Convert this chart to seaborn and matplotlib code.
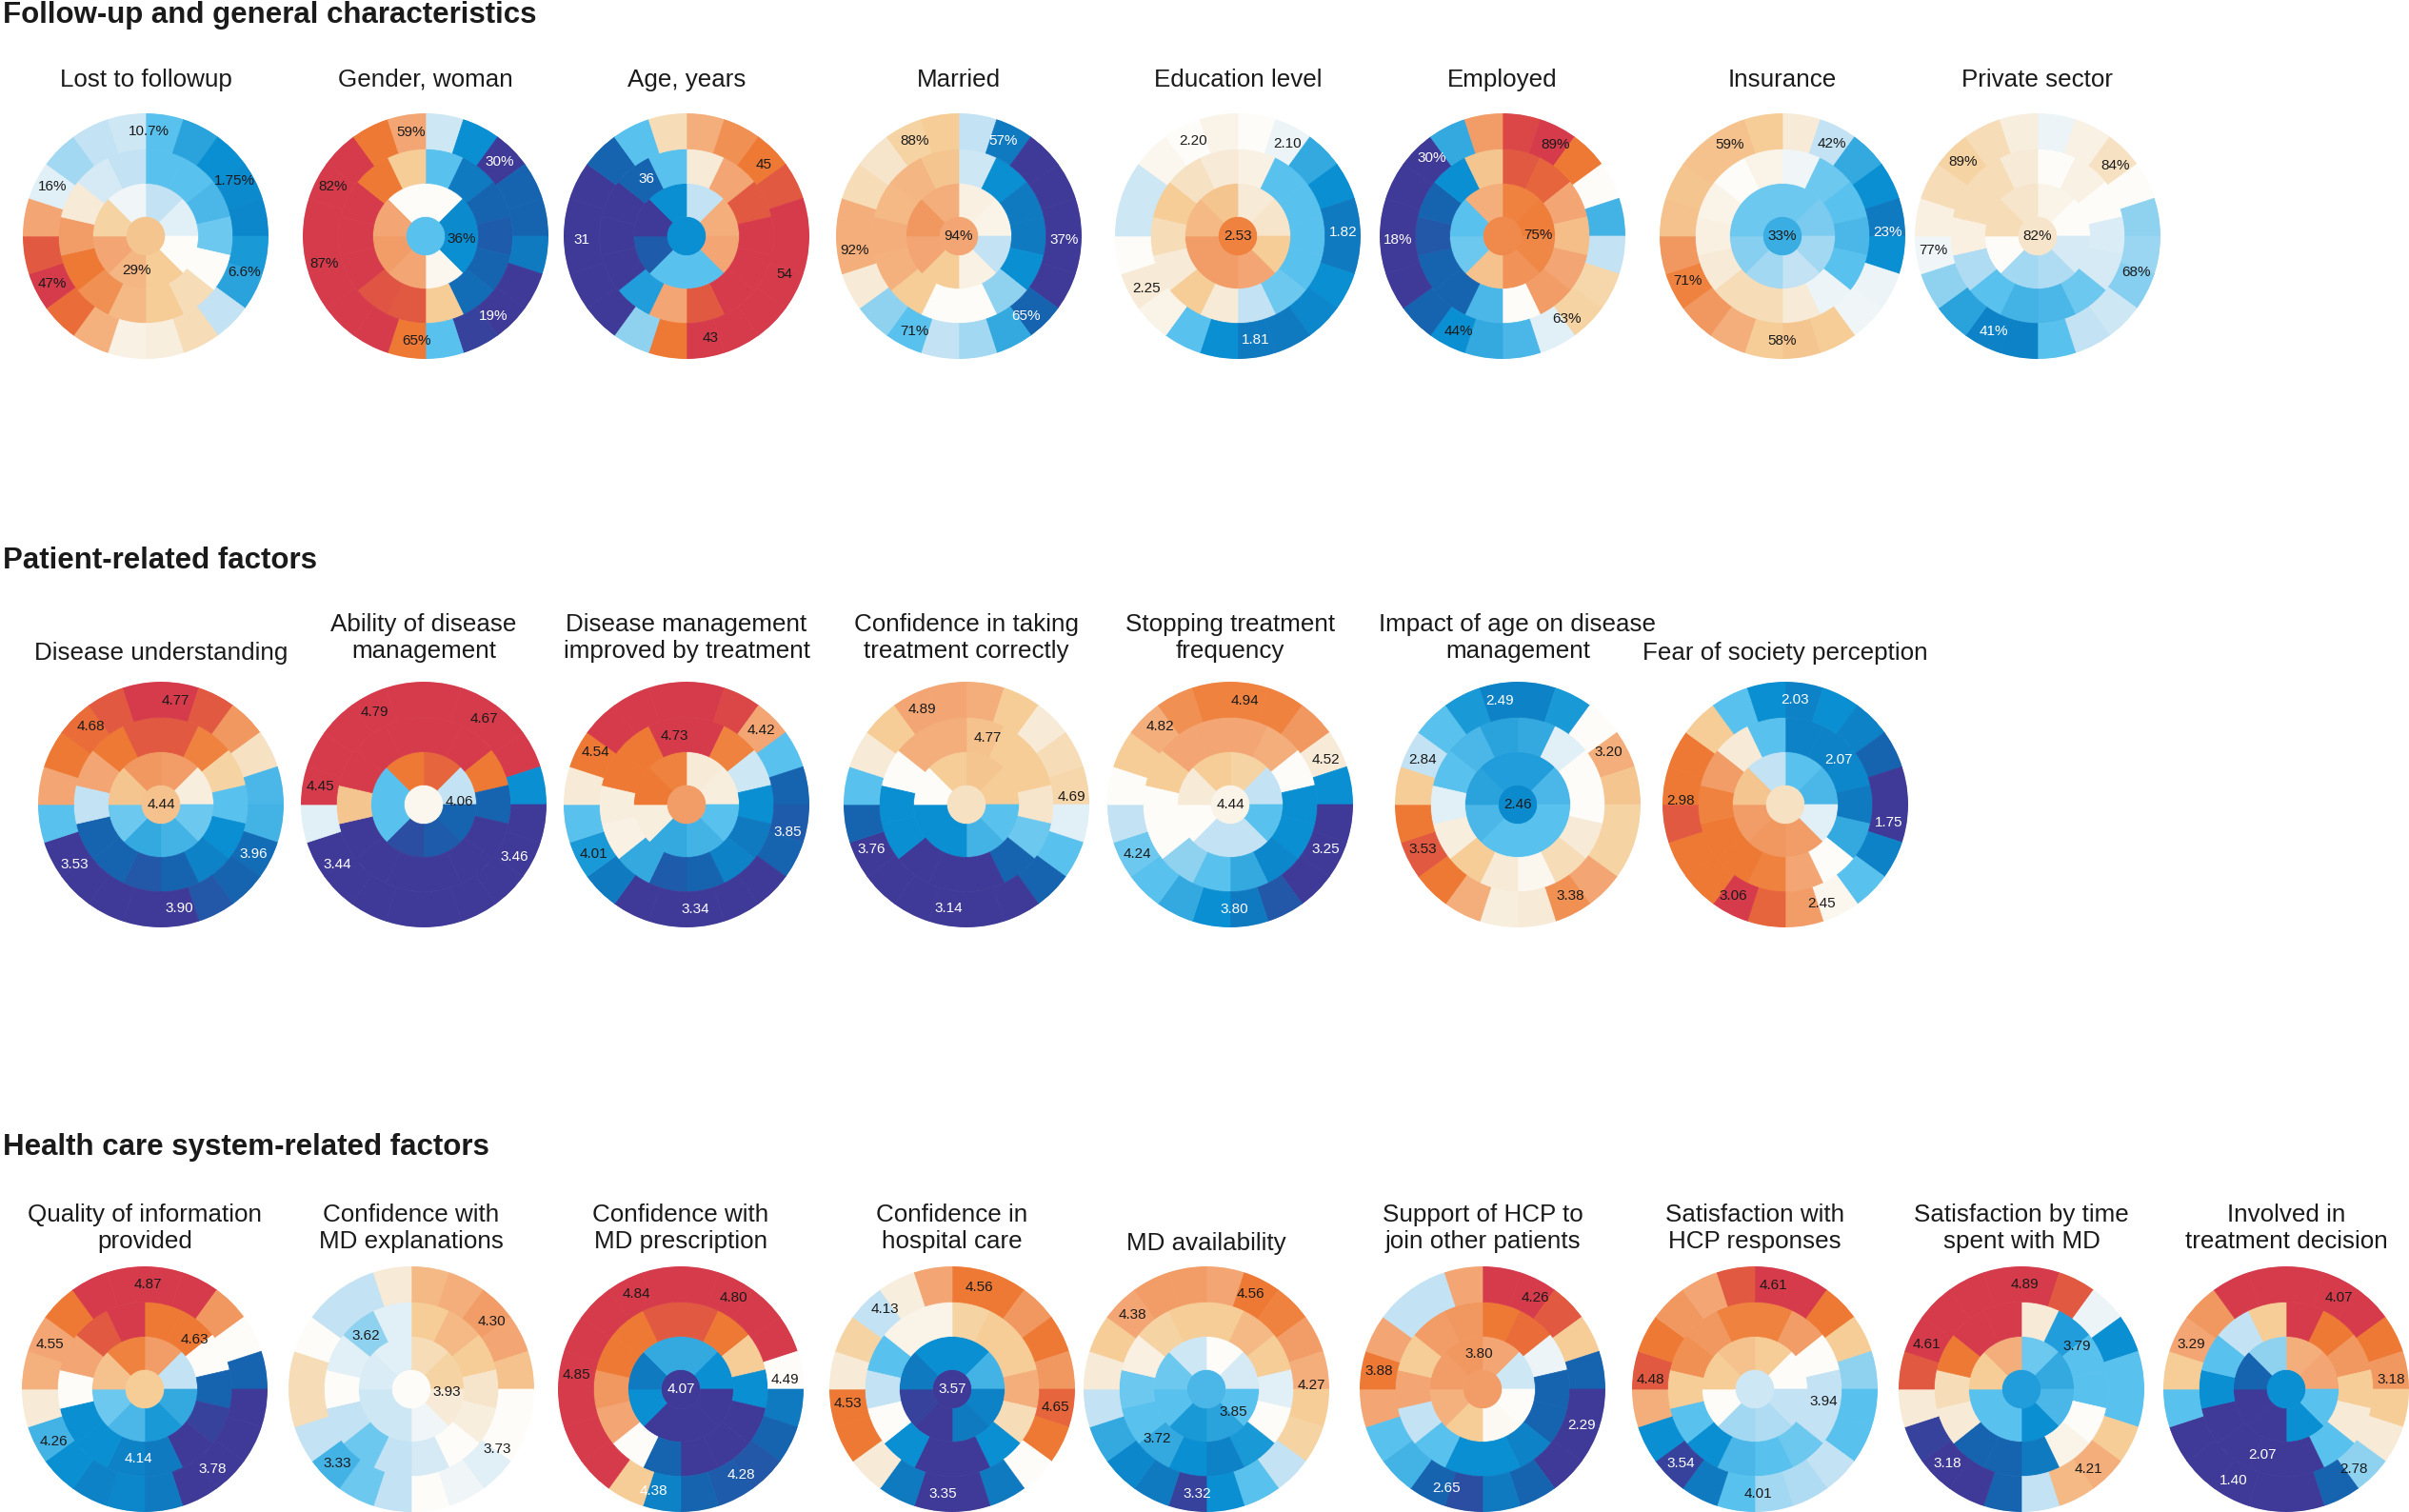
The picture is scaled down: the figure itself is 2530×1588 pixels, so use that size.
import numpy as np
import matplotlib
matplotlib.use("Agg")
import matplotlib.pyplot as plt
import seaborn as sns

sns.set_theme(style="white")
plt.rcParams["font.family"] = ["Liberation Sans", "DejaVu Sans"]

# colour score of every segment, -5 (dark blue) .. +5 (red)
# rings are listed clockwise from 12 o'clock: inner 8, middle 14, outer 20 segments

# ---------------- Follow-up and general characteristics ----------------
row1_titles = ["Lost to followup", "Gender, woman", "Age, years", "Married",
               "Education level", "Employed", "Insurance", "Private sector"]
row1_center = [2.2, -2, -3, 3, 3.8, 3.6, -2.4, 1.2]
row1_inner = [
    [-1, -0.5, 0, 2, 2.6, 3, 1.8, -0.2],
    [0, -3.1, -3.0, 0.3, 3, 3.2, 3, 0],
    [-1, 2.8, 3, -2, -2, -4.2, -5, -3],
    [0.7, 0.5, -1, 0.6, 2, 3, 3.3, 2.8],
    [1, 1.2, 2, 3, 3.2, 3.2, 2.5, 2.2],
    [3.8, 3.9, 3.7, 3.4, 2.3, -1.8, -2, 2.8],
    [-1.8, -1.7, -1.3, -1, -1.3, -1.6, -1.8, -1.8],
    [0.5, 0, -0.7, -1.2, -1.3, 0, 1.5, 1.2],
]
row1_mid = [
    [-2, -2, -2.2, -1.8, 0, 1.5, 2, 2.5, 3.5, 4, 3.2, 1, -0.7, -1],
    [-2, -3.5, -4, -4.2, -4, -3.8, 2, 4.5, 4.6, 5, 5, 5, 4, 2],
    [1, 3, 4.5, 5, 5, 5, 4.5, 3, -2.7, -5, -5, -5, -4, -2],
    [-0.8, -3, -3.5, -3.5, -3, -1.5, 0, 0, 2, 2.7, 2.8, 2.5, 2.6, 2.2],
    [0.6, -2, -2, -2, -2, -1.8, -1, 1, 2, 1, 1.5, 2, 1.3, 1],
    [4.5, 4.3, 3, 2.4, 3, 3.2, 0, -2.2, -4, -4, -4.3, -4, -3, 2.2],
    [-0.2, -1.8, -2, -2.2, -2, -0.3, 1, 1.5, 1.5, 1, 0.7, 0.5, 0, 0.5],
    [0, 0.6, 0, -0.6, -0.7, -1.8, -2.2, -2.3, -2, -1.2, 0.7, 1.5, 1.5, 1],
]
row1_outer = [
    [-2, -2.6, -3, -3.1, -3.2, -2.8, -2.6, -1, 1.5, 0.8, 0.6, 2.7, 4.2, 5, 4.5, 3, -0.5, -1.3, -1, -0.8],
    [-0.8, -3, -5, -4, -4, -3.5, -5, -5, -4.8, -2, 4, 5, 5, 5, 5, 5, 5, 5, 4, 3],
    [2.8, 3.5, 4, 4.5, 5, 5, 5, 5, 5, 5, 4, -1.5, -5, -5, -5, -5, -5, -4, -2, 1.5],
    [-1, -3.5, -5, -5, -5, -5, -5, -4, -2.5, -1.3, -1, -2, -1.5, 1, 2.8, 2.8, 1.5, 1.2, 1.8, 2],
    [0, -0.3, -2.5, -3, -3.5, -3.5, -3, -3.2, -3.5, -3.5, -3, -2, 0.5, 1, 0, -0.8, -0.8, 0.3, 0, 0.5],
    [4.8, 5, 4, 0, -2.3, -1, 1.7, 1.8, -0.5, -2.2, -2.5, -3, -4, -5, -5, -5, -5, -5, -2.5, 3.2],
    [1, -1, -2.5, -3, -3.5, -3, -0.3, -0.2, 2, 2.2, 2, 2.8, 3.3, 3.8, 3.3, 2.3, 2.2, 2.3, 2.3, 2],
    [-0.3, 0.6, 1.3, 0, -1.5, -1.4, -1.6, -0.8, -1, -2, -3.3, -3.3, -2.6, -1.5, -0.2, 0.7, 1.5, 1.8, 1.5, 0.8],
]
# value labels: (text, ring 0=centre..3=outer, clock angle of the labelled segment)
row1_labels = [
    [("10.7%", 3, 2), ("1.75%", 3, 58), ("6.6%", 3, 110), ("47%", 3, 243), ("16%", 3, 298), ("29%", 1, 195)],
    [("59%", 3, 352), ("30%", 3, 45), ("36%", 1, 95), ("19%", 3, 140), ("65%", 3, 185), ("87%", 3, 255), ("82%", 3, 298)],
    [("36", 2, 325), ("45", 3, 47), ("54", 3, 111), ("43", 3, 167), ("31", 3, 268)],
    [("88%", 3, 335), ("57%", 3, 25), ("37%", 3, 92), ("65%", 3, 140), ("71%", 3, 205), ("92%", 3, 262), ("94%", 0, 0)],
    [("2.20", 3, 335), ("2.10", 3, 28), ("1.82", 3, 88), ("1.81", 3, 170), ("2.25", 3, 240), ("2.53", 0, 0)],
    [("89%", 3, 30), ("75%", 1, 88), ("63%", 3, 142), ("44%", 3, 205), ("18%", 3, 268), ("30%", 3, 318)],
    [("59%", 3, 330), ("42%", 3, 28), ("23%", 3, 88), ("58%", 3, 180), ("71%", 3, 245), ("33%", 0, 0)],
    [("89%", 3, 315), ("84%", 3, 48), ("68%", 3, 110), ("41%", 3, 205), ("77%", 3, 262), ("82%", 0, 0)],
]

# ---------------- Patient-related factors ----------------
row2_titles = ["Disease understanding", "Ability of disease\nmanagement",
               "Disease management\nimproved by treatment", "Confidence in taking\ntreatment correctly",
               "Stopping treatment\nfrequency", "Impact of age on disease\nmanagement",
               "Fear of society perception"]
row2_center = [2.3, 0.3, 3.2, 1.3, 0.5, -3.1, 1.3]
row2_inner = [
    [3.2, 0.8, -1.8, -2.3, -2.5, -1.8, 2.2, 3.3],
    [4.3, -1, -4, -4.2, -4.5, -2, -2, 4],
    [1, 0.8, -2, -2.3, -2.5, 0.8, 4, 3.8],
    [2.2, 2, -2, -2.3, -3, -3, 0, 2],
    [1.8, -1, -2, -1, -1, 0, 1, 2],
    [-2.7, -2.2, -2, -2, -2, -2.2, -2.6, -2.7],
    [-2, -2.2, -0.5, 3.2, 3.3, 3.2, 2.2, -1],
]
row2_mid = [
    [4.5, 3.8, 1.8, -2, -3, -3.3, -4, -4.3, -4, -4, -1, 3, 4, 4.5],
    [5, 5, 4, -4, -5, -5, -5, -5, -5, -5, 2.2, 5, 5, 5],
    [5, 3.8, -0.8, -3, -3.5, -3.3, -4, -4.2, -2.5, 0.6, 0.8, 4, 4, 5],
    [2.3, 2, 2, 1.2, -1.8, -4, -5, -5, -5, -3, -3, 0, 2.8, 2.8],
    [3, 2.8, 0, -3, -3, -3.2, -2.5, -2, -1.5, 0, 0, 2, 3, 3],
    [-2.5, -0.5, 0, 0, 1, 1.5, 0.3, 1, 2, 0.8, -0.5, -2, -2.2, -2.6],
    [-3.3, -3.3, -3.2, -3.5, -2.5, 0, 3, 3.8, 4, 4, 3.8, 3.2, 1, -2],
]
row2_outer = [
    [5, 4.5, 3.3, 1.3, -2.2, -2.3, -3.8, -4, -4.3, -5, -5, -5, -5, -5, -2, 3, 4, 4.2, 4.5, 5],
    [5, 5, 5, 5, -3, -5, -5, -5, -5, -5, -5, -5, -5, -5, -0.5, 5, 5, 5, 5, 5],
    [5, 4.8, 3, -2, -4, -4.2, -4, -5, -5, -5, -5, -5, -3.5, -2.8, -2, 1, 4, 5, 5, 5],
    [2.8, 2, 1, 1.5, 1.7, -0.5, -2, -4, -5, -5, -5, -5, -5, -5, -4, -2, 1, 2, 3, 3],
    [3.8, 3.8, 3.3, 1, -3, -5, -5, -5, -4.3, -3.5, -3, -2.5, -2, -1.8, -1, 0, 2, 2.8, 3.5, 3.8],
    [-3.3, -2.8, 0, 2.8, 2.2, 1.8, 1.8, 3, 3.5, 1, 0.8, 2.8, 4, 4.5, 4, 2, -1, -2, -2.8, -3.3],
    [-3.3, -3, -3.3, -4, -5, -5, -3.3, -2, 0.3, 3.2, 4.3, 5, 4, 4, 4.5, 4, 4, 2, -2, -3],
]
row2_labels = [
    [("4.77", 3, 8), ("4.68", 3, 318), ("4.44", 0, 0), ("3.96", 3, 118), ("3.90", 3, 170), ("3.53", 3, 235)],
    [("4.79", 3, 332), ("4.67", 3, 35), ("4.45", 3, 280), ("4.06", 1, 85), ("3.44", 3, 235), ("3.46", 3, 120)],
    [("4.73", 2, 350), ("4.42", 3, 45), ("4.54", 3, 300), ("3.85", 3, 105), ("3.34", 3, 175), ("4.01", 3, 242)],
    [("4.89", 3, 335), ("4.77", 2, 18), ("4.69", 3, 86), ("3.76", 3, 245), ("3.14", 3, 190)],
    [("4.94", 3, 8), ("4.82", 3, 318), ("4.52", 3, 65), ("3.25", 3, 115), ("3.80", 3, 178), ("4.24", 3, 242), ("4.44", 0, 0)],
    [("2.49", 3, 350), ("3.20", 3, 60), ("3.38", 3, 150), ("3.53", 3, 245), ("2.84", 3, 295), ("2.46", 0, 0)],
    [("2.03", 3, 5), ("2.07", 2, 50), ("1.75", 3, 100), ("2.45", 3, 160), ("3.06", 3, 210), ("2.98", 3, 272)],
]

# ---------------- Health care system-related factors ----------------
row3_titles = ["Quality of information\nprovided", "Confidence with\nMD explanations",
               "Confidence with\nMD prescription", "Confidence in\nhospital care", "MD availability",
               "Support of HCP to\njoin other patients", "Satisfaction with\nHCP responses",
               "Satisfaction by time\nspent with MD", "Involved in\ntreatment decision"]
row3_center = [2, 0, -5, -5, -2.2, 3.2, -0.8, -2.7, -3]
row3_inner = [
    [3.2, -1, -2.5, -2.8, -2.2, -1.8, 2.3, 3.8],
    [1.5, 1.8, 1, -0.2, -0.8, -0.8, -0.6, -0.5],
    [-2.5, -3, -5, -5, -5, -3, -3.5, -2.5],
    [-3, -2.3, -3.3, -3.5, -5, -4.8, -3.5, -3],
    [0, -0.7, -2, -2.6, -2.8, -2, -1.8, -0.8],
    [3, -0.8, 0, 0.2, 2, 2.7, 3.2, 3.3],
    [2, 0, -1, -1.2, -1.3, 0, 2, 2.3],
    [-1.8, -2.5, -2.2, -3, -2, -2, 2, 2.8],
    [2.8, 3, -2, -3, -5, -5, -4, -1.5],
]
row3_mid = [
    [4, 4, 0, -4, -4.8, -5, -3.5, -3.3, -3, -3, 0, 3, 4.5, 5],
    [2, 2.5, 2, 1.2, 0.8, 0, -0.7, -1, -1.8, -1, 0, -0.5, -1.5, -0.5],
    [4.5, 4, 2, -3, -5, -5, -5, -4, 0, 3, 3.3, 4, 4, 4.5],
    [1.8, 2, 2, 2.8, 1.5, -3, -5, -5, -3, 0, -1, -2, 0.5, 0.5],
    [2, 2.5, 2, -0.5, 0, -2.8, -3.3, -3, -2.5, -2, -1.8, 0.7, 1.8, 2],
    [4, 4.2, -0.3, -4, -4, -3.3, -3, -3, -2, -1, 3, 2, 3.2, 3.3],
    [3.8, 3.2, 0, -1, -1, -1.8, -2, -2.2, -3, -2, 2, 3.5, 3.3, 3.8],
    [1, -2.7, -2, -2, 0, 0.5, -3.5, -4, -4, 1, 1.5, 4, 5, 5],
    [5, 4, 3.3, 2, 1, -2, -5, -5, -5, -5, -3, -2, -1, 2],
]
row3_outer = [
    [5, 5, 3.3, 0, -4, -5, -5, -5, -5, -3.5, -3.2, -3.3, -3, -2.3, 1, 2.7, 3, 4, 5, 5],
    [2.5, 2.8, 3.2, 3, 2.3, 0, 0, -0.5, -0.2, 0, -1, -1.8, -2.3, -1, 1.5, 1.5, 0, -1, -1, 1],
    [5, 5, 5, 5, 0, -3.5, -4, -4.3, -4.2, -4, -3.3, 2, 5, 5, 5, 5, 5, 5, 5, 5],
    [4, 4, 3.3, 4, 3.3, 4.3, 4, 0, -3.5, -5, -5, -3.5, 1, 4, 4, 1, 1.8, -1, 0.8, 3],
    [3, 4, 3.8, 3.2, 2.8, 2, 1.8, -1, -2, -3, -4.8, -3.5, -3.2, -2.5, -1, 1, 2, 3, 3.2, 3.2],
    [5, 5, 4.5, 2, -4, -5, -5, -5, -4, -3.5, -4.5, -4, -2.3, -2, 3, 4, 3, -1, -1, 3],
    [5, 5, 4, 2, -1.5, -2, -2, -1, -1.2, -1.3, -2, -3.5, -4.8, -3, 2.8, 4.5, 4, 3.3, 3, 4.5],
    [5, 4.5, -0.3, -3, -2, -2, 2, 2.8, 2.5, -1, -4, -5, -5, -4.8, 1, 4.5, 5, 5, 5, 5],
    [5, 5, 5, 4, 3.3, 2, 1, -1.5, -4, -5, -5, -5, -5, -5, -2, 2, 3, 3.3, 5, 5],
]
row3_labels = [
    [("4.87", 3, 2), ("4.63", 2, 45), ("4.55", 3, 295), ("4.26", 3, 240), ("4.14", 2, 185), ("3.78", 3, 140)],
    [("4.30", 3, 50), ("3.62", 2, 320), ("3.93", 1, 95), ("3.73", 3, 125), ("3.33", 3, 225)],
    [("4.84", 3, 335), ("4.80", 3, 30), ("4.49", 3, 85), ("4.28", 3, 145), ("4.38", 3, 195), ("4.85", 3, 278), ("4.07", 0, 0)],
    [("4.56", 3, 15), ("4.13", 3, 320), ("4.53", 3, 262), ("4.65", 3, 100), ("3.35", 3, 185), ("3.57", 0, 0)],
    [("4.56", 3, 25), ("4.38", 3, 315), ("4.27", 3, 88), ("3.85", 1, 130), ("3.72", 2, 225), ("3.32", 3, 185)],
    [("4.26", 3, 30), ("3.80", 1, 355), ("3.88", 3, 280), ("2.29", 3, 110), ("2.65", 3, 200)],
    [("4.61", 3, 10), ("4.48", 3, 275), ("3.94", 2, 100), ("3.54", 3, 225), ("4.01", 3, 178)],
    [("4.89", 3, 2), ("4.61", 3, 295), ("3.79", 2, 52), ("4.21", 3, 140), ("3.18", 3, 225)],
    [("4.07", 3, 30), ("3.29", 3, 295), ("3.18", 3, 85), ("2.78", 3, 140), ("1.40", 3, 210), ("2.07", 2, 200)],
]

section_titles = ["Follow-up and general characteristics", "Patient-related factors",
                  "Health care system-related factors"]

# ---------------- layout (pixels of the 2530 x 1588 output) ----------------
W, H = 2530, 1588
R = 129
RADII = [0.16, 0.43, 0.71, 1.0]
LABEL_R = [0.0, 0.29, 0.57, 0.855]
row_x = [
    [153, 447, 721, 1007, 1300, 1578, 1872, 2140],
    [169, 445, 721, 1015, 1292, 1594, 1875],
    [152, 432, 715, 1000, 1267, 1557, 1843, 2123, 2401],
]
row_cy = [248, 845, 1459]
row_title_y = [84, 670, 1290]
section_y = [16, 589, 1205]

cmap = sns.blend_palette(["#3F3A97", "#1565B0", "#0A8FD2", "#5BC2EE", "#C3E2F3", "#FDFCF9",
                          "#F7EAD7", "#F6CE98", "#F3A674", "#EE7A34", "#D63B4B"], as_cmap=True)


def col(v):
    return cmap((v + 5) / 10)


fig = plt.figure(figsize=(W / 100, H / 100), dpi=100)


def draw_chart(cx, cy, title, ty, center, inner, mid, outer, labels):
    ax = fig.add_axes([(cx - R) / W, 1 - (cy + R) / H, 2 * R / W, 2 * R / H], projection="polar")
    ax.set_theta_zero_location("N")
    ax.set_theta_direction(-1)
    c = col(center)
    ax.bar(0, RADII[0], width=2 * np.pi, bottom=0, color=c, edgecolor=c, linewidth=0.5)
    rings = [inner, mid, outer]
    for k, vals in enumerate(rings):
        n = len(vals)
        w = 2 * np.pi / n
        theta = np.arange(n) * w + w / 2
        colors = [col(v) for v in vals]
        ax.bar(theta, RADII[k + 1] - RADII[k], width=w, bottom=RADII[k],
               color=colors, edgecolor=colors, linewidth=0.5)
    for txt, ring, ang in labels:
        if ring == 0:
            lvl = center
        else:
            vals = rings[ring - 1]
            lvl = vals[int((ang % 360) / (360 / len(vals)))]
        tc = "white" if lvl <= -3.2 else "#1a1a1a"
        ax.text(np.deg2rad(ang), LABEL_R[ring], txt, ha="center", va="center",
                fontsize=11, color=tc)
    ax.set_ylim(0, 1)
    ax.set_axis_off()
    fig.text(cx / W, 1 - ty / H, title, ha="center", va="center", fontsize=18.7,
             linespacing=1.2, color="#1a1a1a")


rows = [
    (row1_titles, row1_center, row1_inner, row1_mid, row1_outer, row1_labels),
    (row2_titles, row2_center, row2_inner, row2_mid, row2_outer, row2_labels),
    (row3_titles, row3_center, row3_inner, row3_mid, row3_outer, row3_labels),
]
for r, (titles, cen, inn, mid, out, labs) in enumerate(rows):
    fig.text(0.001, 1 - section_y[r] / H, section_titles[r], ha="left", va="center",
             fontsize=22.5, fontweight="bold", color="#1a1a1a")
    for i, t in enumerate(titles):
        ty = row_title_y[r]
        if "\n" not in t and r > 0:
            ty = row_title_y[r] + 16
        draw_chart(row_x[r][i], row_cy[r], t, ty, cen[i], inn[i], mid[i], out[i], labs[i])

fig.savefig("out.png", dpi=100)
